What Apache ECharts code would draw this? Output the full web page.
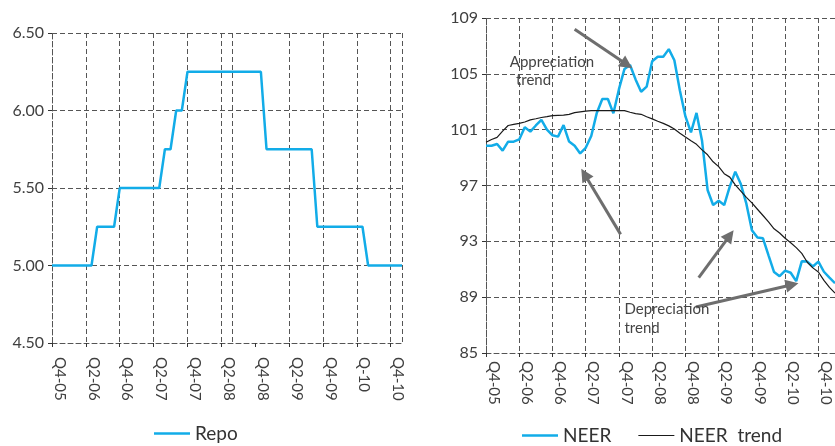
<!DOCTYPE html>
<html>
<head>
<meta charset="utf-8">
<script src="https://cdn.jsdelivr.net/npm/echarts@6/dist/echarts.min.js"></script>
<style>
  html, body { margin: 0; padding: 0; background: #fff; }
  #chart { width: 835px; height: 446px; }
</style>
</head>
<body>
<div id="chart"></div>
<script>
// Monthly observations, Oct 2005 onwards
const months = [
  'Oct-05','Nov-05','Dec-05',
  'Jan-06','Feb-06','Mar-06','Apr-06','May-06','Jun-06','Jul-06','Aug-06','Sep-06','Oct-06','Nov-06','Dec-06',
  'Jan-07','Feb-07','Mar-07','Apr-07','May-07','Jun-07','Jul-07','Aug-07','Sep-07','Oct-07','Nov-07','Dec-07',
  'Jan-08','Feb-08','Mar-08','Apr-08','May-08','Jun-08','Jul-08','Aug-08','Sep-08','Oct-08','Nov-08','Dec-08',
  'Jan-09','Feb-09','Mar-09','Apr-09','May-09','Jun-09','Jul-09','Aug-09','Sep-09','Oct-09','Nov-09','Dec-09',
  'Jan-10','Feb-10','Mar-10','Apr-10','May-10','Jun-10','Jul-10','Aug-10','Sep-10','Oct-10','Nov-10','Dec-10',
  'Jan-11'
];

// Policy repo rate (%)
const repo = [
  5.00, 5.00, 5.00, 5.00, 5.00, 5.00, 5.00, 5.00,
  5.25, 5.25, 5.25, 5.25,
  5.50, 5.50, 5.50, 5.50, 5.50, 5.50, 5.50, 5.50,
  5.75, 5.75,
  6.00, 6.00,
  6.25, 6.25, 6.25, 6.25, 6.25, 6.25, 6.25, 6.25, 6.25, 6.25, 6.25, 6.25, 6.25, 6.25,
  5.75, 5.75, 5.75, 5.75, 5.75, 5.75, 5.75, 5.75, 5.75,
  5.25, 5.25, 5.25, 5.25, 5.25, 5.25, 5.25, 5.25, 5.25,
  5.00, 5.00, 5.00, 5.00, 5.00, 5.00, 5.00
];

// Nominal effective exchange rate index
const neer = [
  99.85, 99.85, 99.97, 99.5, 100.14, 100.14, 100.3, 101.17, 100.86, 101.3,
  101.7, 101.0, 100.6, 100.5, 101.33, 100.15, 99.85, 99.3, 99.7, 100.55,
  102.2, 103.2, 103.2, 102.17, 103.9, 105.35, 105.63, 104.6, 103.72, 104.08,
  105.9, 106.23, 106.23, 106.77, 105.97, 103.8, 101.95, 100.8, 102.2, 100.2,
  96.68, 95.6, 95.9, 95.6, 96.92, 97.99, 97.1, 95.7, 93.8, 93.27,
  93.22, 92.0, 90.8, 90.5, 90.9, 90.75, 90.15, 91.57, 91.55, 91.2,
  91.55, 90.82, 90.4, 90.0
];

// Smoothed NEER trend
const neerTrend = [
  100.1, 100.3, 100.45, 100.9, 101.3, 101.38, 101.45, 101.55, 101.7, 101.78,
  101.87, 101.93, 102.0, 102.02, 102.04, 102.1, 102.22, 102.28, 102.33, 102.36,
  102.36, 102.36, 102.36, 102.36, 102.36, 102.36, 102.25, 102.15, 102.1, 101.93,
  101.77, 101.6, 101.45, 101.27, 101.05, 100.75, 100.47, 100.2, 99.95, 99.55,
  99.2, 98.7, 98.35, 97.85, 97.6, 97.05, 96.6, 96.15, 95.75, 95.3,
  94.85, 94.4, 93.9, 93.6, 93.22, 92.9, 92.55, 92.14, 91.5, 91.1,
  90.8, 90.2, 89.7, 89.3
];

// Half-yearly tick labels (one every 6 months)
const repoTickLabels = ['Q4-05','Q2-06','Q4-06','Q2-07','Q4-07','Q2-08','Q4-08','Q2-09','Q4-09','Q-10','Q4-10'];
const neerTickLabels = ['Q4-05','Q2-06','Q4-06','Q2-07','Q4-07','Q2-08','Q4-08','Q2-09','Q4-09','Q2-10','Q4-10'];
const repoYTicks = [4.5, 5.0, 5.5, 6.0, 6.5];
const neerYTicks = [85, 89, 93, 97, 101, 105, 109];

// Month positions that carry a vertical gridline in the repo panel
const repoGridMonths = [0, 6, 12, 18, 24, 30, 32, 42, 48, 54, 60, 62];

// Callouts on the NEER panel, in [month index, index value]
const neerArrows = [
  { from: [16.0, 108.2], to: [26.4, 105.4] },
  { from: [24.3, 93.5], to: [17.2, 98.2] },
  { from: [38.4, 90.4], to: [44.7, 93.8] },
  { from: [37.9, 88.3], to: [56.4, 90.0] }
];
const neerNotes = [
  { text: 'Appreciation', at: [4.3, 105.85] },
  { text: 'trend', at: [5.4, 104.56] },
  { text: 'Depreciation', at: [25.0, 88.15] },
  { text: 'trend', at: [25.0, 86.79] }
];

const FONT = 'Lato, "DejaVu Sans", sans-serif';
const TEXT = '#3f3f3f';
const GRID_LINE = { color: '#555555', width: 1, type: [5, 3] };
const BLUE = '#12ACE8';
const TREND = '#1a1a1a';

// Flat bar icons for the legend (thick for NEER/Repo, thin for the trend)
const THICK_ICON = 'path://M0,0H36V2.5H0Z';
const THIN_ICON = 'path://M0,0H36V1.1H0Z';

const chart = echarts.init(document.getElementById('chart'), null, { renderer: 'canvas' });

function xAxisFor(gridIndex, cats, labels, gridFn) {
  return {
    type: 'category',
    gridIndex: gridIndex,
    data: cats,
    boundaryGap: false,
    axisLine: { show: true, lineStyle: GRID_LINE },
    axisTick: {
      show: true, length: 4,
      interval: (i) => i % 6 === 0 && i <= 60,
      lineStyle: { color: '#333', width: 1 }
    },
    axisLabel: {
      interval: (i) => i % 6 === 0 && i <= 60,
      rotate: -90,
      verticalAlign: 'bottom',
      margin: gridIndex === 0 ? 14 : 8,
      formatter: (v, i) => labels[i / 6] || '',
      fontFamily: FONT, fontSize: 15, color: TEXT
    },
    splitLine: { show: true, interval: gridFn, lineStyle: GRID_LINE }
  };
}

function yAxisFor(gridIndex, ticks, fmt, size) {
  return {
    type: 'value',
    gridIndex: gridIndex,
    min: ticks[0],
    max: ticks[ticks.length - 1],
    axisLine: { show: true, lineStyle: GRID_LINE },
    axisTick: { show: true, length: 4, customValues: ticks, lineStyle: { color: '#333' } },
    axisLabel: {
      customValues: ticks,
      formatter: fmt,
      margin: 8,
      fontFamily: FONT, fontSize: size, color: TEXT
    },
    splitLine: { show: true, lineStyle: GRID_LINE }
  };
}

const legendText = { fontFamily: FONT, fontSize: 19, color: '#333' };

const option = {
  animation: false,
  backgroundColor: '#ffffff',
  grid: [
    { left: 52, top: 33, width: 350, height: 310 },
    { left: 486, top: 18, width: 350.7, height: 335 }
  ],
  xAxis: [
    xAxisFor(0, months.slice(0, repo.length), repoTickLabels, (i) => repoGridMonths.includes(i)),
    xAxisFor(1, months, neerTickLabels, (i) => i % 6 === 0 && i <= 60)
  ],
  yAxis: [
    yAxisFor(0, repoYTicks, (v) => v.toFixed(2), 16),
    yAxisFor(1, neerYTicks, (v) => String(v), 16)
  ],
  legend: [
    {
      data: [{ name: 'Repo', icon: THICK_ICON }],
      left: 149, top: 419, padding: 5,
      itemWidth: 36, itemHeight: 12, itemGap: 27,
      textStyle: legendText
    },
    {
      data: [{ name: 'NEER', icon: THICK_ICON }, { name: 'NEER  trend', icon: THIN_ICON }],
      left: 517, top: 421, padding: 5,
      itemWidth: 36, itemHeight: 12, itemGap: 27,
      textStyle: legendText
    }
  ],
  series: [
    {
      name: 'Repo', type: 'line', xAxisIndex: 0, yAxisIndex: 0,
      data: repo, symbol: 'none', showSymbol: false,
      lineStyle: { color: BLUE, width: 2.5 }, itemStyle: { color: BLUE }
    },
    {
      name: 'NEER', type: 'line', xAxisIndex: 1, yAxisIndex: 1,
      data: neer, symbol: 'none', showSymbol: false,
      lineStyle: { color: BLUE, width: 2.5 }, itemStyle: { color: BLUE }
    },
    {
      name: 'NEER  trend', type: 'line', xAxisIndex: 1, yAxisIndex: 1,
      data: neerTrend, symbol: 'none', showSymbol: false,
      lineStyle: { color: TREND, width: 1.2 }, itemStyle: { color: TREND }
    }
  ]
};

chart.setOption(option);

// Map a (possibly fractional) month index and value on the NEER panel to pixels
function neerPx(pt) {
  const a = chart.convertToPixel({ gridIndex: 1 }, [0, pt[1]]);
  const b = chart.convertToPixel({ gridIndex: 1 }, [1, pt[1]]);
  return [a[0] + pt[0] * (b[0] - a[0]), a[1]];
}

const ARROW = '#6e6e6e';
const graphics = [];
neerArrows.forEach((ar) => {
  const p = neerPx(ar.from);
  const q = neerPx(ar.to);
  const dx = q[0] - p[0], dy = q[1] - p[1];
  const len = Math.sqrt(dx * dx + dy * dy);
  const ux = dx / len, uy = dy / len;
  const headLen = 13, headHalf = 6.5;
  const bx = q[0] - ux * headLen, by = q[1] - uy * headLen;
  graphics.push({
    type: 'line', z: 10,
    shape: { x1: p[0], y1: p[1], x2: bx + ux * 2, y2: by + uy * 2 },
    style: { stroke: ARROW, lineWidth: 3 }
  });
  graphics.push({
    type: 'polygon', z: 10,
    shape: { points: [[q[0], q[1]], [bx - uy * headHalf, by + ux * headHalf], [bx + uy * headHalf, by - ux * headHalf]] },
    style: { fill: ARROW }
  });
});
neerNotes.forEach((n) => {
  const p = neerPx(n.at);
  graphics.push({
    type: 'text', z: 11,
    x: p[0], y: p[1],
    style: { text: n.text, fill: '#444', font: '15px ' + FONT, textAlign: 'left', textVerticalAlign: 'middle' }
  });
});
chart.setOption({ graphic: graphics });
</script>
</body>
</html>
